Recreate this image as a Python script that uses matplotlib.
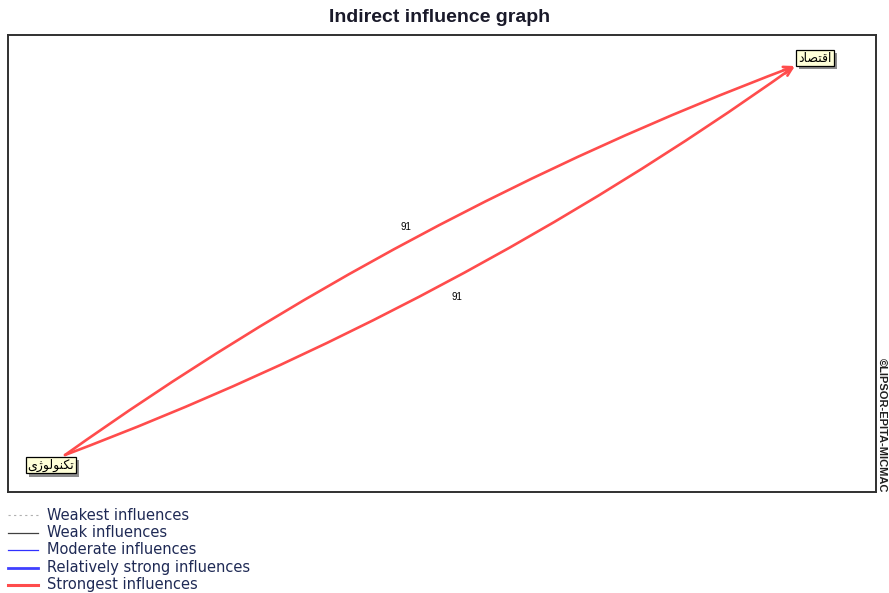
import matplotlib
matplotlib.use('Agg')
import matplotlib.pyplot as plt
import matplotlib.patheffects as pe
from matplotlib.patches import FancyArrowPatch
from matplotlib.lines import Line2D

plt.rcParams['font.family'] = ['Liberation Sans', 'DejaVu Sans']

# nodes (persian labels written as presentation forms, visual order)
node_names = ['econ', 'tech']
node_labels = ['\ufea9\ufe8e\ufebc\ufe98\ufed7\ufe8d',               # اقتصاد
               '\ufbfc\ufb8a\ufeee\ufedf\ufeee\ufee8\ufb91\ufe97']   # تکنولوژی
node_x = [815, 51]
node_y = [58, 465]

# edges: source, target, value, curvature
edge_src = ['tech', 'tech']
edge_dst = ['econ', 'econ']
edge_val = [91, 91]
edge_rad = [-0.065, 0.065]

legend_labels = ['Weakest influences', 'Weak influences', 'Moderate influences',
                 'Relatively strong influences', 'Strongest influences']
legend_colors = ['#b0b0b0', '#404040', '#3030ff', '#4040ff', '#ff4c4c']
legend_widths = [0.8, 0.9, 0.9, 2.0, 2.2]
legend_styles = [(0, (2, 3)), '-', '-', '-', '-']

fig = plt.figure(figsize=(8.89, 5.93), dpi=100)
ax = fig.add_axes([8 / 889, 1 - 492 / 593, 868 / 889, 457 / 593])
ax.set_xlim(8, 876)
ax.set_ylim(492, 35)
ax.set_xticks([])
ax.set_yticks([])
for s in ax.spines.values():
    s.set_linewidth(1.4)
    s.set_color('#303030')

fig.text(0.495, 1 - 18 / 593, 'Indirect influence graph', ha='center', va='center',
         fontsize=14, fontweight='bold', color='#1a1a2a')

pos = {n: (x, y) for n, x, y in zip(node_names, node_x, node_y)}

# edge end points offset from node centre
start_off = {'tech': (14, -10)}
end_off = {'econ': (-20, 8)}

for src, dst, val, rad in zip(edge_src, edge_dst, edge_val, edge_rad):
    x0, y0 = pos[src]
    x1, y1 = pos[dst]
    p0 = (x0 + start_off[src][0], y0 + start_off[src][1])
    p1 = (x1 + end_off[dst][0], y1 + end_off[dst][1])
    arr = FancyArrowPatch(p0, p1, connectionstyle=f'arc3,rad={rad}',
                          arrowstyle='->,head_length=6,head_width=2.5',
                          color='#ff4c4c', lw=1.9, shrinkA=0, shrinkB=0, zorder=2)
    ax.add_patch(arr)
    # midpoint of the arc, same rule as arc3 (display coords)
    d0 = ax.transData.transform(p0)
    d1 = ax.transData.transform(p1)
    mx, my = (d0 + d1) / 2
    dx, dy = d1 - d0
    cx, cy = mx + rad * dy, my - rad * dx
    bx, by = ax.transData.inverted().transform(((mx + cx) / 2, (my + cy) / 2))
    if by < (p0[1] + p1[1]) / 2:
        ax.text(bx - 11, by - 10, str(val), fontsize=7, ha='center', va='center', zorder=3)
    else:
        ax.text(bx + 14, by + 13, str(val), fontsize=7, ha='center', va='center', zorder=3)

for lab, x, y in zip(node_labels, node_x, node_y):
    t = ax.text(x, y, lab, fontsize=9, ha='center', va='center', zorder=5,
                family=['DejaVu Sans'],
                bbox=dict(boxstyle='square,pad=0.15', fc='#ffffd8', ec='black', lw=0.9))
    t.get_bbox_patch().set_path_effects([
        pe.SimplePatchShadow(offset=(2.2, -2.2), shadow_rgbFace='#8c8c8c', alpha=1),
        pe.Normal()])

fig.text(882 / 889, 1 - 425 / 593, '\u00a9LIPSOR-EPITA-MICMAC', rotation=-90,
         ha='center', va='center', fontsize=8, fontweight='bold', color='#202020')

for i, (lab, c, w, ls) in enumerate(zip(legend_labels, legend_colors, legend_widths, legend_styles)):
    yy = 1 - (515 + i * 17.5) / 593
    fig.add_artist(Line2D([8 / 889, 38 / 889], [yy, yy], color=c, lw=w, ls=ls))
    fig.text(47 / 889, yy, lab, ha='left', va='center', fontsize=10.5, color='#1f2a55',
             family=['DejaVu Sans'])

fig.savefig('out.png', dpi=100)
